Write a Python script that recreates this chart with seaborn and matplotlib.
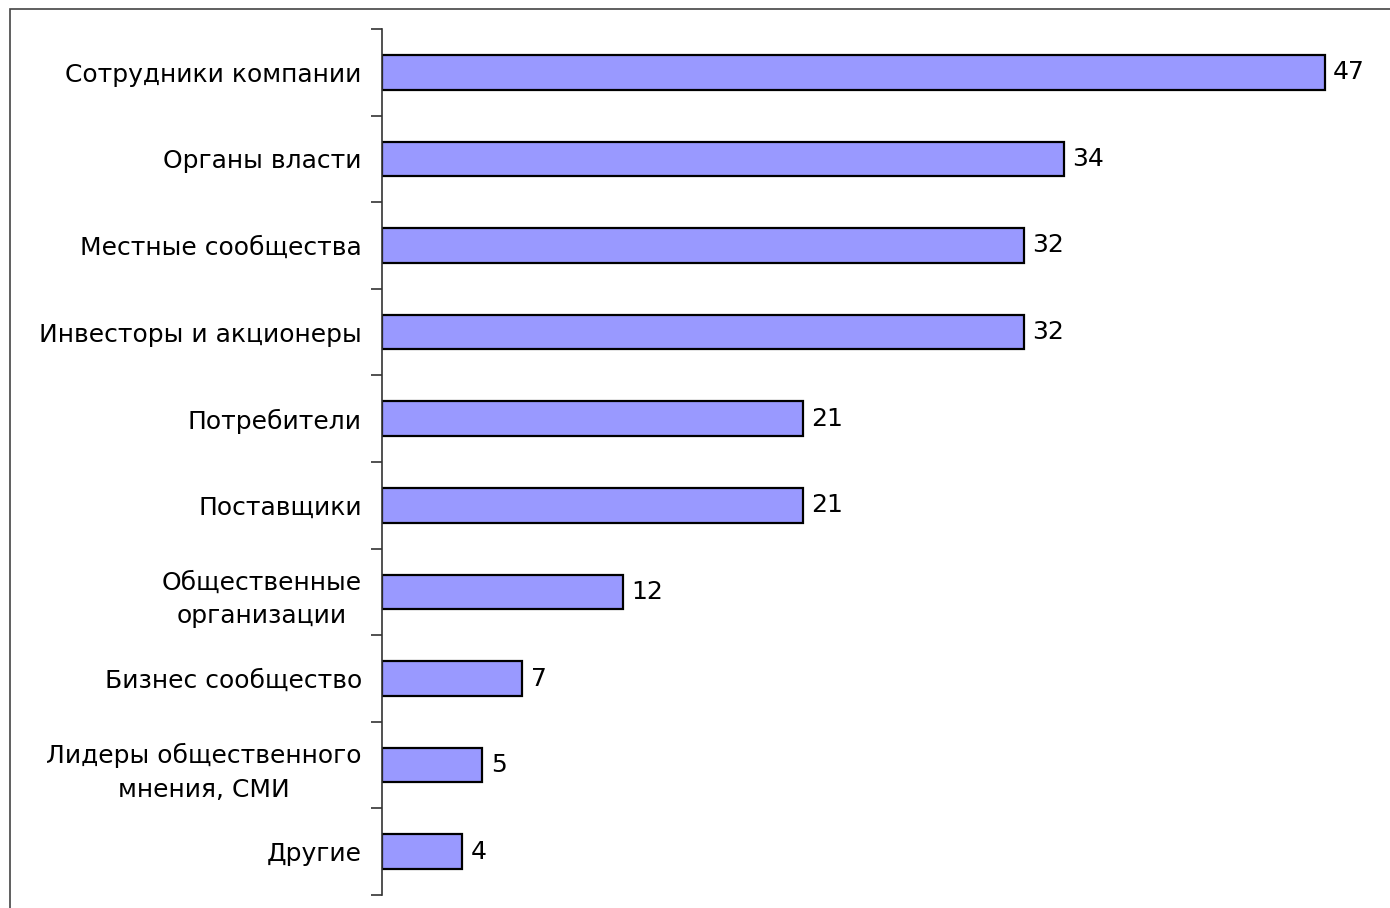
import matplotlib
matplotlib.use("Agg")
import matplotlib.pyplot as plt
from matplotlib import ticker
from matplotlib.patches import Rectangle
import seaborn as sns
import numpy as np

# data
categories = [
    "Сотрудники компании",
    "Органы власти",
    "Местные сообщества",
    "Инвесторы и акционеры",
    "Потребители",
    "Поставщики",
    "Общественные\nорганизации",
    "Бизнес сообщество",
    "Лидеры общественного\nмнения, СМИ",
    "Другие",
]
values = [47, 34, 32, 32, 21, 21, 12, 7, 5, 4]

sns.set_style("white")
plt.rcParams['font.family'] = ['DejaVu Sans']
plt.rcParams['text.color'] = 'black'
plt.rcParams['ytick.labelcolor'] = 'black'

fig = plt.figure(figsize=(13.9, 9.08), dpi=100)
ax = fig.add_axes([382 / 1390, 1 - 895 / 908, 1003 / 1390, 866 / 908])

sns.barplot(x=values, y=categories, color="#9999FF", edgecolor="black",
            linewidth=1.6, width=0.4, saturation=1, ax=ax)

ax.set_xlim(0, 50)
ax.set_ylim(len(categories) - 0.5, -0.5)
ax.set_xlabel("")
ax.set_ylabel("")

# only the left axis is shown
for side in ["top", "right", "bottom"]:
    ax.spines[side].set_visible(False)
ax.spines["left"].set_color("#333333")
ax.spines["left"].set_linewidth(1.2)
ax.set_xticks([])

# ticks between the categories
ax.yaxis.set_minor_locator(ticker.FixedLocator(np.arange(-0.5, len(categories), 1)))
ax.tick_params(axis="y", which="major", length=0, pad=14.5, labelsize=18,
               labelcolor="black")
ax.tick_params(axis="y", which="minor", length=8, width=1.2, color="#333333", left=True)
for lbl in ax.get_yticklabels():
    lbl.set_multialignment("center")
    lbl.set_linespacing(1.5)

ax.bar_label(ax.containers[0], padding=6, fontsize=18, color="black")

# grey frame round the chart
fig.patches.append(Rectangle((10 / 1390, -0.05), 1.2, 0.05 + 1 - 9 / 908,
                             transform=fig.transFigure, fill=False,
                             edgecolor="#444444", linewidth=1.2))

plt.savefig("out.png", dpi=100)
